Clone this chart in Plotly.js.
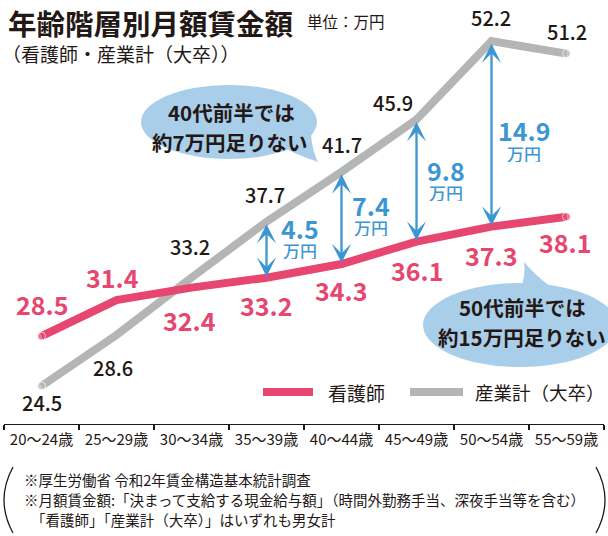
<!DOCTYPE html>
<html><head><meta charset="utf-8">
<script src="https://cdn.plot.ly/plotly-3.0.1.min.js"></script>
<style>html,body{margin:0;padding:0;background:#fff;}#chart{width:608px;height:536px;}</style>
</head><body><div id="chart"></div>
<script>
// ---- data ----
const categories = ['20～24歳','25～29歳','30～34歳','35～39歳','40～44歳','45～49歳','50～54歳','55～59歳'];
const nurse = [28.5, 31.4, 32.4, 33.2, 34.3, 36.1, 37.3, 38.1];
const industry = [24.5, 28.6, 33.2, 37.7, 41.7, 45.9, 52.2, 51.2];
const seriesNames = ['看護師', '産業計（大卒）'];
const gapIndex = [3, 4, 5, 6];
const gapUnit = '万円';
const titleText = '年齢階層別月額賃金額';
const unitText = '単位：万円';
const subtitleText = '（看護師・産業計（大卒））';
const bubble1 = ['40代前半では', '約7万円足りない'];
const bubble2 = ['50代前半では', '約15万円足りない'];
const notes = ['※厚生労働省 令和2年賃金構造基本統計調査',
  '※月額賃金額:「決まって支給する現金給与額」（時間外勤務手当、深夜手当等を含む）',
  '「看護師」「産業計（大卒）」はいずれも男女計'];

// ---- style ----
const PINK = '#E6466F', GREY = '#B4B5B5', BLUE = '#3C96D2', BUB = '#A9CEEA', INK = '#231815';
const FONT = 'Noto Sans CJK JP, Noto Sans, sans-serif';
const W = 608, H = 536, L = 4, R = 4, T = 0, B = 112;
const PW = W - L - R, PH = H - T - B;
const PX = p => (p - L) / PW;
const PY = p => (H - B - p) / PH;
const nurseShift = [[0,32],[-4,23],[-2,-32],[-1,-27],[-1,-26],[0,-28],[-1,-28],[-2,-25]];
const indShift = [[0,-16],[-4,-33],[-2,31],[-2,27],[0,27],[-24,17],[-1,24],[0,22]];
const gapShift = [[33,22,0],[29,13,-9],[29,11,-11],[32,4,-19]];
const endMarks = categories.map((c, i) => (i === 0 || i === categories.length - 1) ? 8 : 0);

const traces = [
  {x: categories, y: industry, type: 'scatter', mode: 'lines+markers', name: seriesNames[1],
   line: {color: GREY, width: 8}, marker: {color: GREY, size: endMarks}, showlegend: false, hoverinfo: 'skip'},
  {x: categories, y: nurse, type: 'scatter', mode: 'lines+markers', name: seriesNames[0],
   line: {color: PINK, width: 8}, marker: {color: PINK, size: endMarks}, showlegend: false, hoverinfo: 'skip'}
];

const ann = [];
const txt = (x, y, text, size, color, weight, extra) => Object.assign({
  xref: 'paper', yref: 'paper', x: PX(x), y: PY(y), text: text, showarrow: false,
  xanchor: 'center', yanchor: 'middle',
  font: {family: FONT, size: size, color: color, weight: weight}}, extra || {});

ann.push(txt(6, 22, titleText, 28.5, INK, 700, {xanchor: 'left'}));
ann.push(txt(305, 21, unitText, 15.5, INK, 400, {xanchor: 'left'}));
ann.push(txt(0, 53, subtitleText, 19, INK, 400, {xanchor: 'left'}));

nurse.forEach((v, i) => ann.push({x: i, y: v, xref: 'x', yref: 'y', text: v.toFixed(1), showarrow: false,
  xshift: nurseShift[i][0], yshift: nurseShift[i][1],
  font: {family: FONT, size: 25, color: PINK, weight: 700}}));
industry.forEach((v, i) => ann.push({x: i, y: v, xref: 'x', yref: 'y', text: v.toFixed(1), showarrow: false,
  xshift: indShift[i][0], yshift: indShift[i][1],
  font: {family: FONT, size: 20, color: INK, weight: 500}}));

gapIndex.forEach((i, k) => {
  ann.push({x: i, y: nurse[i], xref: 'x', yref: 'y', ax: i, ay: industry[i], axref: 'x', ayref: 'y',
    text: '', showarrow: true, arrowside: 'end+start', arrowhead: 3, startarrowhead: 3,
    arrowsize: 1.4, startarrowsize: 1.4, arrowwidth: 2.3, arrowcolor: BLUE, standoff: 1, startstandoff: 1});
  const mid = (nurse[i] + industry[i]) / 2;
  ann.push({x: i, y: mid, xref: 'x', yref: 'y', text: (industry[i] - nurse[i]).toFixed(1), showarrow: false,
    height: 24, valign: 'middle',
    xshift: gapShift[k][0], yshift: gapShift[k][1], font: {family: FONT, size: 25, color: BLUE, weight: 700}});
  ann.push({x: i, y: mid, xref: 'x', yref: 'y', text: gapUnit, showarrow: false,
    height: 18, valign: 'middle',
    xshift: gapShift[k][0], yshift: gapShift[k][2], font: {family: FONT, size: 17, color: BLUE, weight: 500}});
});

ann.push(txt(231, 112, bubble1[0], 20.5, INK, 700));
ann.push(txt(230, 142, bubble1[1], 20.5, INK, 700));
ann.push(txt(522, 307, bubble2[0], 20.5, INK, 700));
ann.push(txt(522, 337, bubble2[1], 20.5, INK, 700));

ann.push(txt(326, 392, seriesNames[0], 19, INK, 400, {xanchor: 'left'}));
ann.push(txt(473, 392, seriesNames[1], 18.5, INK, 400, {xanchor: 'left'}));

ann.push(txt(22, 479, notes[0], 14.5, INK, 400, {xanchor: 'left'}));
ann.push(txt(22, 499, notes[1], 14.5, INK, 400, {xanchor: 'left'}));
ann.push(txt(29, 519, notes[2], 14.5, INK, 400, {xanchor: 'left'}));

const shapes = [
  {type: 'circle', xref: 'paper', yref: 'paper', x0: PX(141), x1: PX(317), y0: PY(85), y1: PY(159),
   fillcolor: BUB, line: {width: 0}, layer: 'below'},
  {type: 'path', xref: 'paper', yref: 'paper', layer: 'below', fillcolor: BUB, line: {width: 0},
   path: `M ${PX(288)} ${PY(150)} Q ${PX(303)} ${PY(157)} ${PX(318)} ${PY(162)} Q ${PX(312)} ${PY(150)} ${PX(311)} ${PY(134)} Z`},
  {type: 'circle', xref: 'paper', yref: 'paper', x0: PX(423), x1: PX(617), y0: PY(283), y1: PY(367),
   fillcolor: BUB, line: {width: 0}, layer: 'below'},
  {type: 'path', xref: 'paper', yref: 'paper', layer: 'below', fillcolor: BUB, line: {width: 0},
   path: `M ${PX(520)} ${PY(290)} Q ${PX(526)} ${PY(276)} ${PX(524)} ${PY(262)} Q ${PX(536)} ${PY(276)} ${PX(551)} ${PY(287)} Z`},
  {type: 'line', xref: 'paper', yref: 'paper', x0: PX(263), x1: PX(313), y0: PY(392), y1: PY(392),
   line: {color: PINK, width: 8}},
  {type: 'line', xref: 'paper', yref: 'paper', x0: PX(410), x1: PX(463), y0: PY(392), y1: PY(392),
   line: {color: GREY, width: 8}},
  {type: 'path', xref: 'paper', yref: 'paper', line: {color: INK, width: 1.3},
   path: `M ${PX(13)} ${PY(467)} Q ${PX(-5)} ${PY(500)} ${PX(13)} ${PY(533)}`},
  {type: 'path', xref: 'paper', yref: 'paper', line: {color: INK, width: 1.3},
   path: `M ${PX(596)} ${PY(467)} Q ${PX(614)} ${PY(500)} ${PX(596)} ${PY(533)}`}
];

const layout = {
  width: W, height: H, margin: {l: L, r: R, t: T, b: B}, paper_bgcolor: '#fff', plot_bgcolor: '#fff',
  showlegend: false,
  xaxis: {type: 'category', range: [-0.5, 7.5], showgrid: false, zeroline: false,
    showline: true, linecolor: INK, linewidth: 1.3, ticks: 'outside', tickson: 'boundaries',
    ticklen: 5, tickwidth: 1.3, tickcolor: INK, fixedrange: true, ticklabelstandoff: 2,
    tickfont: {family: FONT, size: 15, color: INK}},
  yaxis: {range: [21.448, 55.504], visible: false, showgrid: false, zeroline: false, fixedrange: true},
  annotations: ann, shapes: shapes
};
Plotly.newPlot('chart', traces, layout, {displayModeBar: false, staticPlot: true});
</script></body></html>
